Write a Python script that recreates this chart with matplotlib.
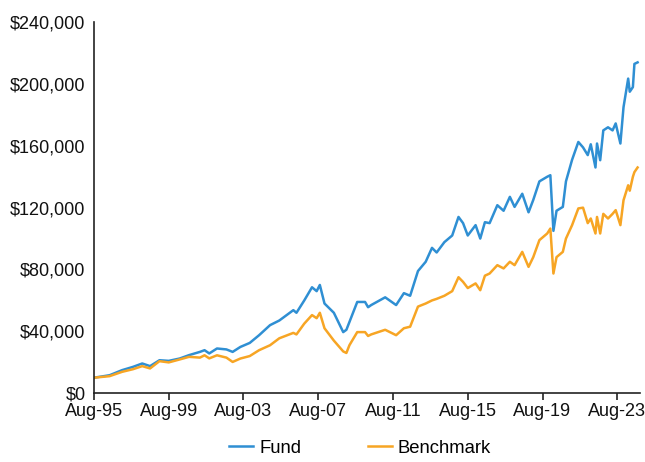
import matplotlib
matplotlib.use("Agg")
import matplotlib.pyplot as plt
import matplotlib.ticker as mticker
import pandas as pd

dates = ["1995-08", "1996-06", "1997-02", "1997-09", "1998-03", "1998-08", "1999-02", "1999-08",
         "2000-03", "2000-09", "2001-04", "2001-07", "2001-10", "2002-03", "2002-09", "2003-01",
         "2003-06", "2003-12", "2004-06", "2005-01", "2005-07", "2006-04", "2006-06", "2006-11",
         "2007-04", "2007-07", "2007-09", "2007-12", "2008-06", "2008-12", "2009-02", "2009-04",
         "2009-09", "2010-02", "2010-04", "2010-06", "2011-03", "2011-10", "2012-03", "2012-07",
         "2012-12", "2013-05", "2013-09", "2013-12", "2014-05", "2014-10", "2015-02", "2015-05",
         "2015-08", "2016-01", "2016-04", "2016-07", "2016-10", "2017-03", "2017-07", "2017-11",
         "2018-02", "2018-07", "2018-11", "2019-02", "2019-06", "2019-11", "2020-01", "2020-03",
         "2020-05", "2020-09", "2020-11", "2021-03", "2021-07", "2021-10", "2022-01", "2022-03",
         "2022-06", "2022-07", "2022-09", "2022-11", "2023-02", "2023-05", "2023-07", "2023-10",
         "2023-12", "2024-03", "2024-04", "2024-06", "2024-07", "2024-09"]

fund = [10.0, 11.6, 14.9, 17.0, 19.2, 17.5, 21.3, 20.9,
        22.4, 24.6, 26.7, 27.8, 25.7, 28.9, 28.3, 26.7,
        29.9, 32.5, 37.5, 44.0, 47.0, 53.7, 52.0, 60.0,
        68.5, 66.0, 70.0, 58.0, 52.0, 39.5, 41.0, 46.0,
        59.0, 59.0, 55.6, 57.0, 62.0, 57.0, 64.7, 63.0,
        79.0, 85.0, 94.0, 91.0, 97.7, 102.0, 114.0, 110.0,
        102.0, 108.7, 100.0, 110.6, 110.0, 121.6, 118.0, 127.0,
        120.5, 129.0, 117.0, 125.0, 137.0, 140.0, 141.0, 105.0,
        118.0, 120.5, 137.0, 151.0, 162.5, 159.0, 154.0, 161.0,
        146.0, 161.5, 150.7, 170.0, 172.0, 170.0, 174.5, 161.5,
        185.0, 203.5, 195.0, 198.0, 213.0, 214.0]

benchmark = [10.0, 11.0, 13.8, 15.5, 17.5, 16.0, 20.7, 19.9,
             21.8, 23.5, 23.0, 24.5, 22.5, 24.5, 23.0, 20.2,
             22.4, 24.0, 27.8, 31.0, 35.5, 39.0, 38.0, 45.0,
             50.5, 48.5, 52.0, 42.0, 34.0, 27.0, 26.0, 31.0,
             39.5, 39.5, 37.0, 38.0, 41.0, 37.5, 42.0, 43.0,
             56.0, 58.0, 60.0, 61.0, 63.0, 66.0, 75.0, 72.0,
             68.0, 71.0, 66.6, 76.0, 77.4, 82.8, 80.7, 85.0,
             82.8, 91.4, 81.7, 88.0, 99.0, 103.3, 106.5, 77.4,
             88.0, 91.4, 100.0, 108.7, 119.5, 120.0, 110.0, 113.0,
             103.3, 114.0, 103.3, 116.0, 113.0, 116.0, 118.4, 108.7,
             124.8, 134.5, 131.0, 140.0, 143.0, 146.0]

x_ticks = ["1995-08", "1999-08", "2003-08", "2007-08", "2011-08", "2015-08", "2019-08", "2023-08"]
y_ticks = [0, 40000, 80000, 120000, 160000, 200000, 240000]

plt.rcParams['font.family'] = ['Liberation Sans', 'DejaVu Sans']

d = pd.to_datetime(dates)
fig = plt.figure(figsize=(6.45, 4.62), dpi=100)
ax = fig.add_axes([0.1457, 0.149, 0.8463, 0.803])

ax.plot(d, [v * 1000 for v in fund], color="#2F8FD3", lw=1.8, label="Fund")
ax.plot(d, [v * 1000 for v in benchmark], color="#F7A524", lw=1.8, label="Benchmark")

ax.set_ylim(0, 240000)
ax.set_xlim(pd.Timestamp("1995-08-01"), pd.Timestamp("2024-10-15"))
ax.set_yticks(y_ticks)
ax.yaxis.set_major_formatter(mticker.FuncFormatter(lambda v, p: "${:,.0f}".format(v)))
xt = pd.to_datetime(x_ticks)
ax.set_xticks(xt)
ax.set_xticklabels([t.strftime("%b-%y") for t in xt])

for s in ["top", "right"]:
    ax.spines[s].set_visible(False)
for s in ["left", "bottom"]:
    ax.spines[s].set_color("#222222")
    ax.spines[s].set_linewidth(1.2)
ax.tick_params(axis="y", length=0, labelsize=13, pad=6, colors="#111111")
ax.tick_params(axis="x", length=5, width=1.2, labelsize=13, pad=2, colors="#111111")
ax.tick_params(axis="x", color="#222222")

fig.legend(loc="center", ncol=2, frameon=False, fontsize=13.3,
           bbox_to_anchor=(0.558, 0.03), handlelength=1.3, columnspacing=3.6,
           handletextpad=0.3, borderaxespad=0, borderpad=0)

fig.savefig("out.png", dpi=100)
